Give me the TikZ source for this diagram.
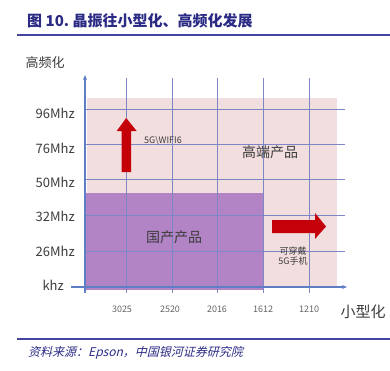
\documentclass[tikz,border=0pt]{standalone}
\usepackage{fontspec}
\setmainfont{Noto Sans CJK SC}
\newfontfamily\sourcefont[FakeSlant=0.25]{Noto Sans CJK SC}
\usetikzlibrary{positioning,arrows.meta}
\definecolor{navy}{HTML}{2B2B85}
\definecolor{rulecol}{HTML}{4545A0}
\definecolor{rose}{HTML}{F3DEDF}
\definecolor{violet}{HTML}{B283C5}
\definecolor{gridcol}{HTML}{7F86C6}
\definecolor{axecol}{HTML}{5E7EC6}
\definecolor{gristxt}{HTML}{3C3C3C}
\definecolor{rouge}{HTML}{C40008}
\tikzstyle{titre}=[anchor=west,inner sep=0pt,text=navy,font=\fontsize{15}{15}\selectfont\bfseries]
\tikzstyle{source}=[anchor=west,inner sep=0pt,text=navy,font=\fontsize{12}{12}\selectfont\sourcefont]
\tikzstyle{ylab}=[anchor=east,inner sep=0pt,text=gristxt,font=\fontsize{13}{13}\selectfont]
\tikzstyle{xlab}=[inner sep=0pt,text=gristxt!80,font=\fontsize{9}{9}\selectfont]
\tikzstyle{zone}=[inner sep=0pt,text=gristxt,font=\fontsize{14}{14}\selectfont]
\tikzstyle{petit}=[inner sep=0pt,text=gristxt,font=\fontsize{9}{10}\selectfont,align=center]
\tikzstyle{grille}=[draw=gridcol,line width=0.6pt]
\tikzstyle{axe}=[draw=axecol,line width=1.2pt,-{Stealth[length=5pt,width=4pt]}]
\tikzstyle{filet}=[draw=rulecol,line width=1.6pt]
\tikzstyle{fleche}=[fill=rouge,draw=none]

\begin{document}
\begin{tikzpicture}[x=1pt,y=-1pt]
\useasboundingbox (0,0) rectangle (390,370);

\node[titre] (T) at (27,21) {图\ 10.\ 晶振往小型化、高频化发展};
\coordinate (R1a) at (17,35);
\coordinate (R1b) at (390,35);
\draw[filet] (R1a) -- (R1b);

% zones
\fill[rose] (87,98) rectangle (337,287);
\fill[violet] (85,193) rectangle (263,290);

% grille
\draw[grille] (85,109) -- (345,109);
\draw[grille] (85,144) -- (345,144);
\draw[grille] (85,179) -- (345,179);
\draw[grille] (85,215) -- (345,215);
\draw[grille] (85,251) -- (345,251);
\coordinate (v1) at (126,293);
\coordinate (v2) at (172,293);
\coordinate (v3) at (217,293);
\coordinate (v4) at (263,293);
\coordinate (v5) at (309,293);
\draw[grille] (126,78) -- (v1);
\draw[grille] (172,78) -- (v2);
\draw[grille] (217,78) -- (v3);
\draw[grille] (263,78) -- (v4);
\draw[grille] (309,78) -- (v5);

% axes
\coordinate (X0) at (71,287);
\coordinate (X1) at (347,287);
\coordinate (Y0) at (85,293);
\coordinate (Y1) at (85,75);
\draw[axe] (X0) -- (X1);
\draw[axe] (Y0) -- (Y1);

\node[zone,font=\fontsize{13}{13}\selectfont] (ytitre) at (45,63) {高频化};
\node[ylab] (y96) at (75,113) {96Mhz};
\node[ylab] (y76) at (75,148) {76Mhz};
\node[ylab] (y50) at (75,182) {50Mhz};
\node[ylab] (y32) at (75,216) {32Mhz};
\node[ylab] (y26) at (75,251) {26Mhz};
\node[ylab] (ykhz) at (64,285) {khz};

\node[xlab] (x1) [below=13pt of v1,xshift=-4pt] {3025};
\node[xlab] (x2) [below=13pt of v2,xshift=-2pt] {2520};
\node[xlab] (x3) [below=13pt of v3] {2016};
\node[xlab] (x4) [below=13pt of v4] {1612};
\node[xlab] (x5) [below=13pt of v5] {1210};
\node[zone,font=\fontsize{15}{15}\selectfont] (xtitre) at (363,312) {小型化};

% fleches
\fill[fleche] (121.7,172) -- (121.7,131) -- (116.7,131) -- (126.2,118) -- (136.7,131) -- (131.2,131) -- (131.2,172) -- cycle;
\fill[fleche] (272,220) -- (315,220) -- (315,213) -- (326,226.5) -- (315,239) -- (315,233) -- (272,233) -- cycle;

\node[petit] (wifi) at (163,141) {5G\textbackslash WIFI6};
\node[zone] (haut) at (270,152) {高端产品};
\node[zone] (dom) at (174,237) {国产产品};
\node[petit] (wear) at (293,256) {可穿戴\\5G手机};

\coordinate (R2a) at (17,339);
\coordinate (R2b) at (390,339);
\draw[filet] (R2a) -- (R2b);
\node[source] (S) at (28,353) {资料来源：Epson，中国银河证券研究院};
\end{tikzpicture}
\end{document}
